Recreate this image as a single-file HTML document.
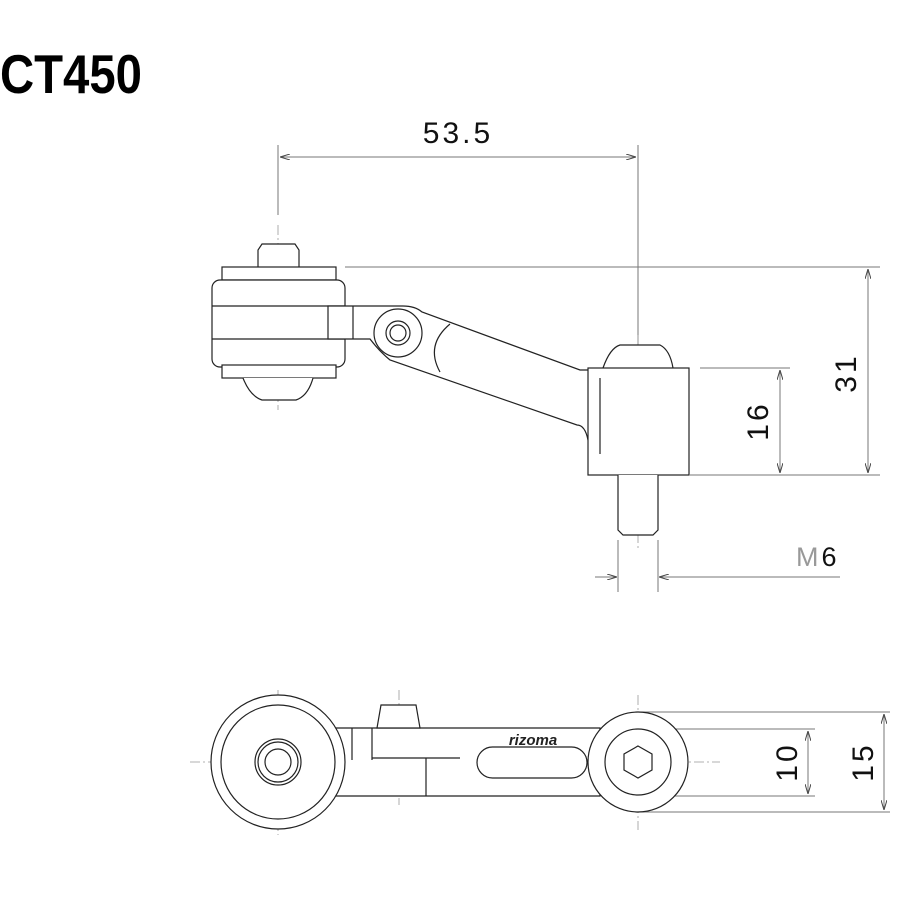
<!DOCTYPE html>
<html><head><meta charset="utf-8"><style>body{margin:0;background:#fff}svg{display:block}</style></head><body>
<svg width="900" height="900" viewBox="0 0 900 900" xmlns="http://www.w3.org/2000/svg" font-family="Liberation Sans, sans-serif">
<defs><marker id="a" viewBox="0 0 10 6" refX="10" refY="3" markerWidth="10" markerHeight="6" orient="auto-start-reverse"><path d="M0,0 L10,3 L0,6" fill="none" stroke="#444" stroke-width="1"/></marker></defs>
<text x="0" y="93" font-size="55" font-weight="bold" transform="scale(0.86,1)">CT450</text>
<g stroke="#777" stroke-width="1" fill="none">
<line x1="278" y1="145" x2="278" y2="215"/><line x1="638" y1="145" x2="638" y2="360"/>
<line x1="280" y1="157" x2="636" y2="157" marker-start="url(#a)" marker-end="url(#a)"/>
<line x1="345" y1="267" x2="880" y2="267"/><line x1="690" y1="475" x2="880" y2="475"/><line x1="700" y1="368" x2="790" y2="368"/>
<line x1="868" y1="269" x2="868" y2="473" marker-start="url(#a)" marker-end="url(#a)"/>
<line x1="780" y1="370" x2="780" y2="473" marker-start="url(#a)" marker-end="url(#a)"/>
<line x1="618" y1="540" x2="618" y2="592"/><line x1="658" y1="540" x2="658" y2="592"/>
<line x1="595" y1="577" x2="617" y2="577" marker-end="url(#a)"/><line x1="840" y1="577" x2="659" y2="577" marker-end="url(#a)"/>
<line x1="640" y1="712" x2="890" y2="712"/><line x1="640" y1="729" x2="815" y2="729"/><line x1="640" y1="796" x2="815" y2="796"/><line x1="640" y1="812" x2="890" y2="812"/>
<line x1="808" y1="731" x2="808" y2="794" marker-start="url(#a)" marker-end="url(#a)"/>
<line x1="884" y1="714" x2="884" y2="810" marker-start="url(#a)" marker-end="url(#a)"/>
</g>
<g font-size="30" fill="#111" letter-spacing="3">
<text x="458" y="143" text-anchor="middle">53.5</text>
<text transform="translate(856,373) rotate(-90)" text-anchor="middle">31</text>
<text transform="translate(768,421) rotate(-90)" text-anchor="middle">16</text>
<text transform="translate(797,762) rotate(-90)" text-anchor="middle">10</text>
<text transform="translate(873,762) rotate(-90)" text-anchor="middle">15</text>
<text x="796" y="566" font-size="27"><tspan fill="#999">M</tspan>6</text>
</g>
<g stroke="#999" stroke-width="0.8" stroke-dasharray="10,3,2,3" fill="none">
<line x1="278" y1="225" x2="278" y2="410"/><line x1="638" y1="335" x2="638" y2="550"/>
<line x1="398" y1="315" x2="398" y2="350"/><line x1="380" y1="333" x2="416" y2="333"/>
<line x1="278" y1="690" x2="278" y2="835"/><line x1="190" y1="762" x2="720" y2="762"/>
<line x1="638" y1="695" x2="638" y2="830"/><line x1="399" y1="690" x2="399" y2="805"/>
</g>
<g stroke="#222" stroke-width="1.2" fill="#fff">
<path d="M258,267 V250 L262,244 H295 L299,250 V267"/>
<rect x="222" y="267" width="114" height="13"/>
<rect x="212" y="280" width="133" height="87" rx="8"/>
<line x1="212" y1="306" x2="345" y2="306"/><line x1="212" y1="339" x2="345" y2="339"/>
<rect x="222" y="365" width="114" height="13"/>
<path d="M243,378 Q250,396 262,400 H296 Q308,396 313,378"/>
<path d="M328,306 H403 Q415,306 422,312 L580,370 H600 V430 L588,440 Q585,425 577,425 L390,360 Q380,352 370,339 H328 Z"/>
<line x1="353" y1="306" x2="353" y2="339"/>
<circle cx="398" cy="333" r="24" fill="none"/>
<circle cx="398" cy="333" r="12"/><circle cx="398" cy="333" r="8"/>
<path d="M450,324 Q425,345 440,372" fill="none"/>
<path d="M603,368 Q610,348 620,345 H660 Q670,350 673,368"/>
<rect x="588" y="368" width="101" height="107"/>
<path d="M618,475 V530 L623,535 H653 L658,530 V475"/>
<path d="M600,378 V454" fill="none"/>
</g>
<g stroke="#222" stroke-width="1.2" fill="#fff">
<path d="M330,728 H600 V796 H330 Z"/>
<circle cx="278" cy="762" r="67"/><circle cx="278" cy="762" r="57"/>
<circle cx="278" cy="762" r="23"/><circle cx="278" cy="762" r="20"/><circle cx="278" cy="762" r="13"/>
<circle cx="638" cy="762" r="50"/><circle cx="638" cy="762" r="33"/>
<polygon points="638,746 652,754 652,770 638,778 624,770 624,754"/>
<path d="M377,728 L381,705 H416 L420,728 Z"/>
<line x1="352" y1="728" x2="352" y2="760"/><line x1="372" y1="728" x2="372" y2="760"/>
<line x1="372" y1="758" x2="460" y2="758"/><line x1="426" y1="758" x2="426" y2="796"/>
<rect x="477" y="747" width="110" height="31" rx="15.5"/>
</g>
<text x="533" y="745" font-size="15" font-style="italic" font-weight="bold" text-anchor="middle" fill="#222">rizoma</text>
</svg>
</body></html>
